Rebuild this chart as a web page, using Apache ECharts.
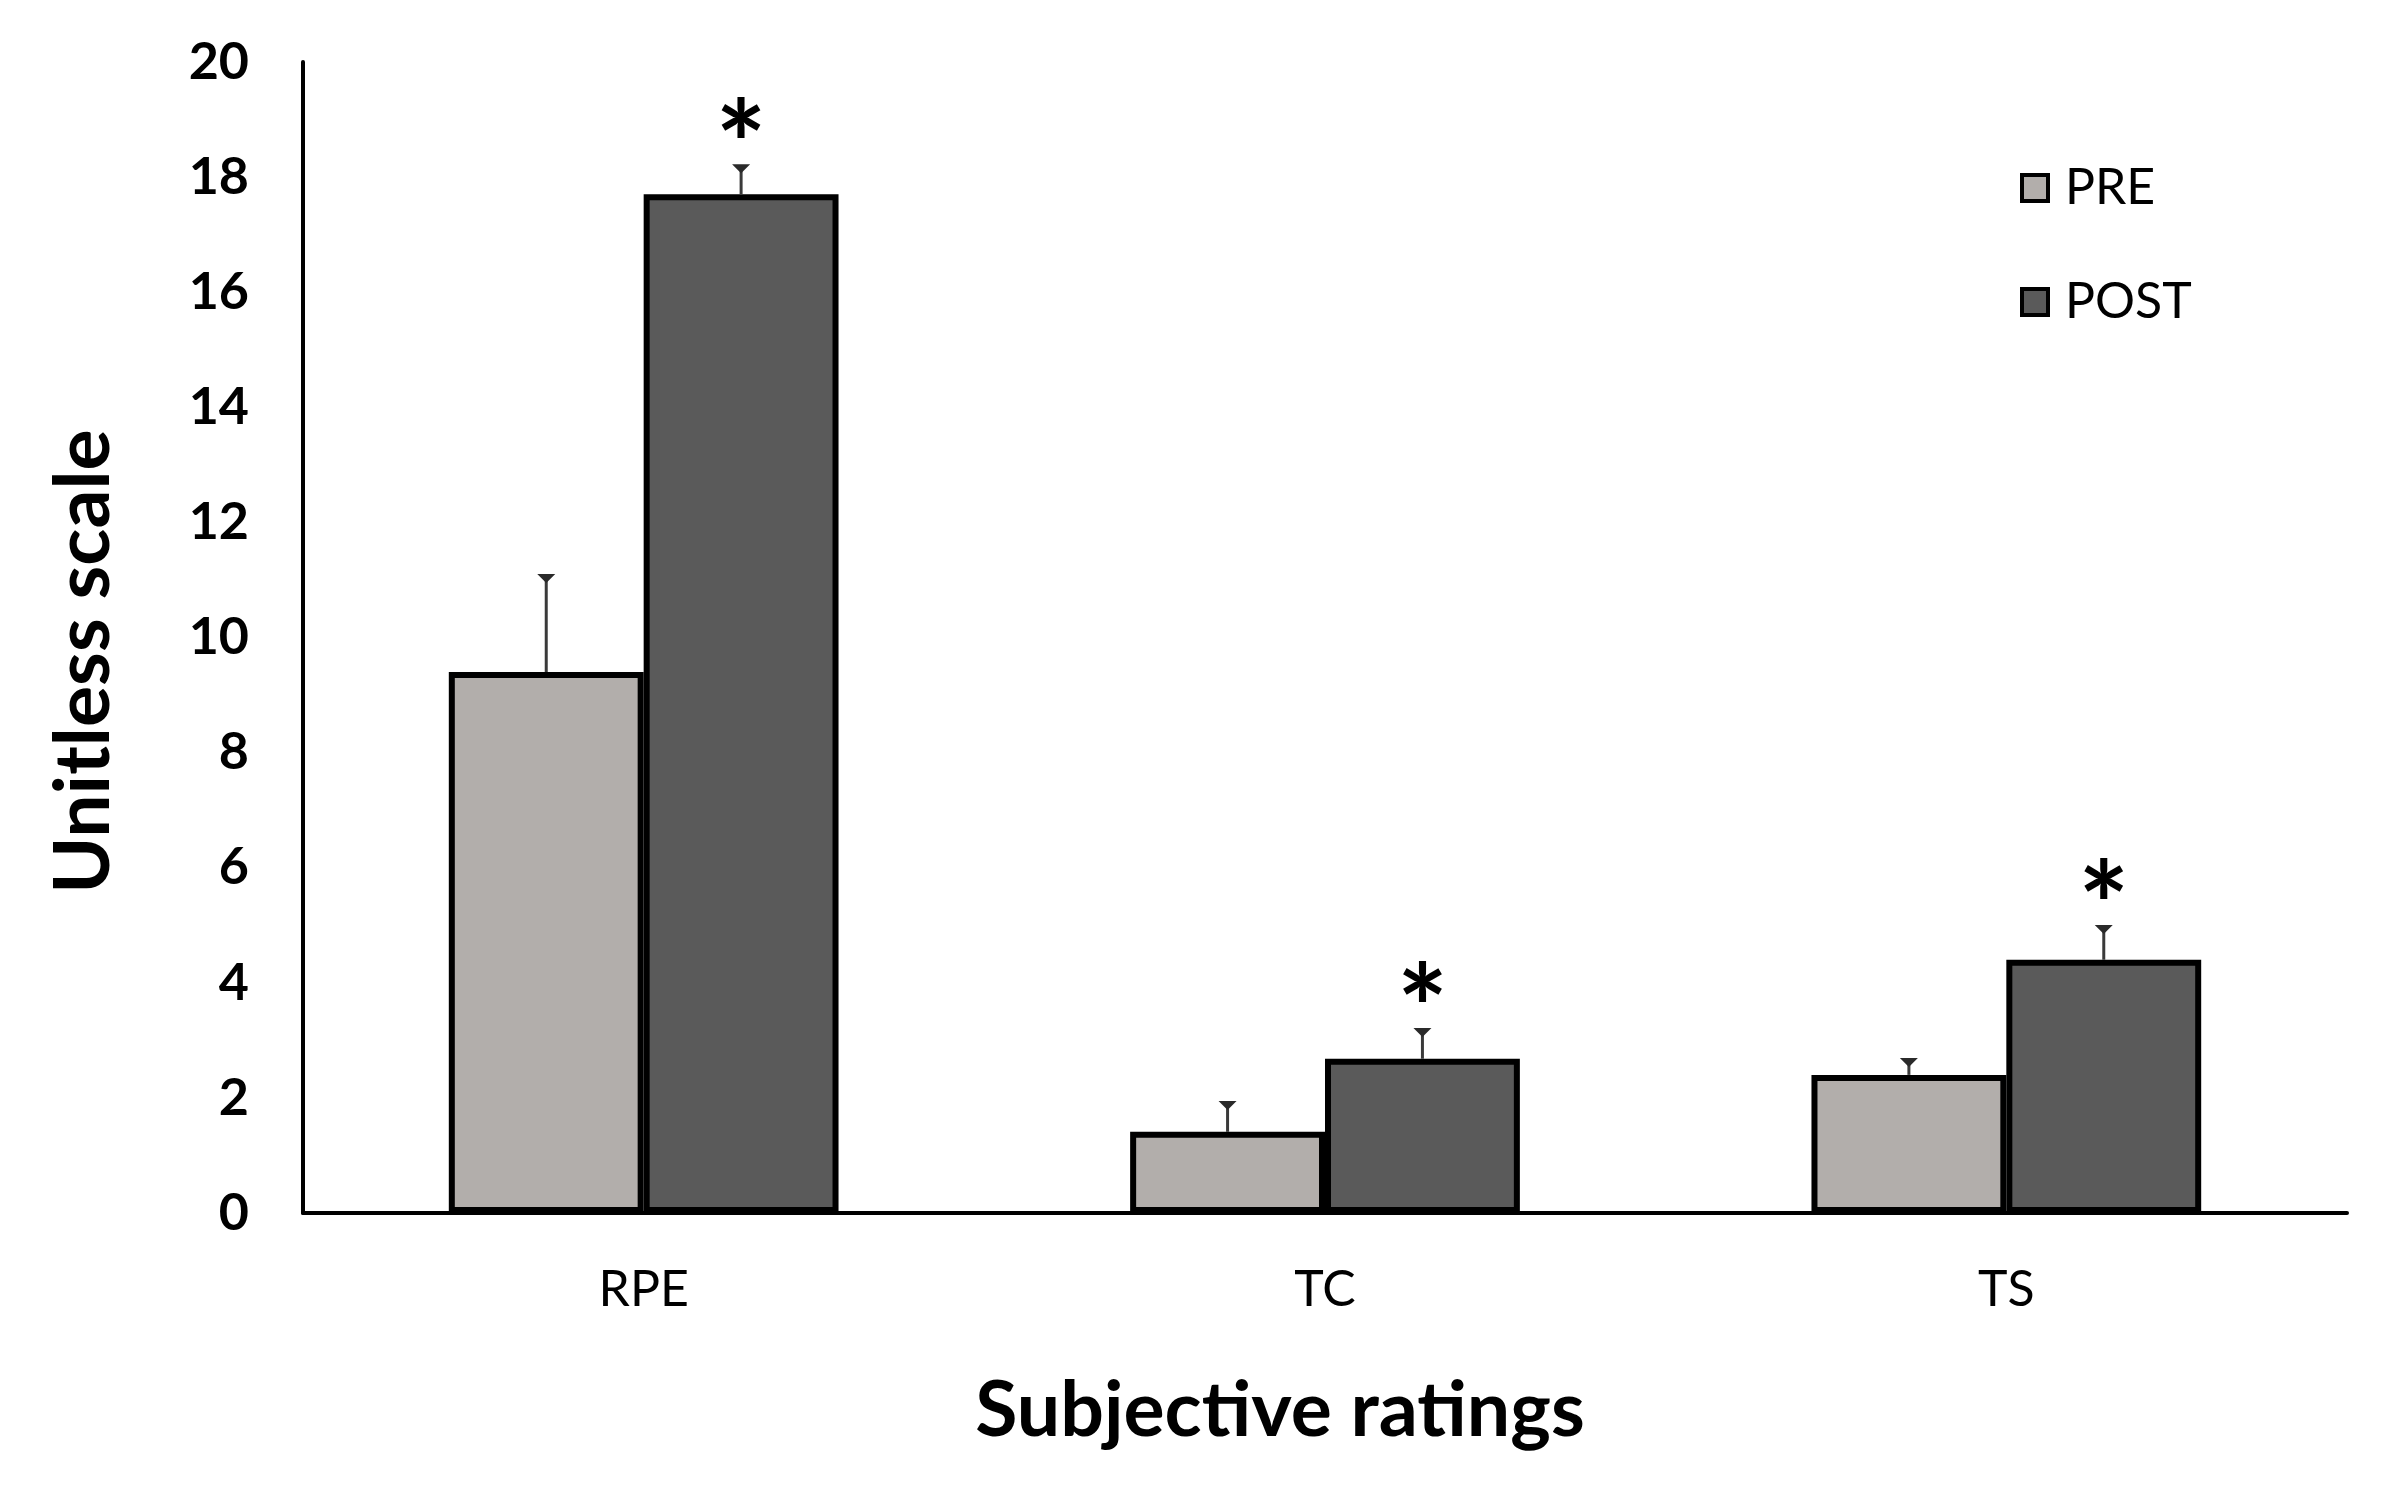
<!DOCTYPE html>
<html>
<head>
<meta charset="utf-8">
<script src="https://cdn.jsdelivr.net/npm/echarts@6/dist/echarts.min.js"></script>
<style>
html,body{margin:0;padding:0;background:#fff;}
#chart{width:2401px;height:1503px;}
</style>
</head>
<body>
<div id="chart"></div>
<script>
// ---- data ----
const categories = ['RPE', 'TC', 'TS'];
const preValues  = [9.4, 1.41, 2.40];
const preErrors  = [1.67, 0.50, 0.26];
const postValues = [17.7, 2.68, 4.40];
const postErrors = [0.49, 0.50, 0.57];
const postSignificant = [true, true, true];
const yTicks = { min: 0, max: 20, interval: 2 };

const FONT = 'Lato';
const BAR_FRAC = 0.286;

const chart = echarts.init(document.getElementById('chart'), null, {renderer: 'canvas'});

function errData(vals, errs, sig) {
  return vals.map((v, i) => [i, v, v + errs[i], sig ? (sig[i] ? 1 : 0) : 0]);
}

function makeErrSeries(name, vals, errs, side, sig) {
  return {
    type: 'custom',
    name: name + '_err',
    z: 5,
    silent: true,
    data: errData(vals, errs, sig),
    renderItem: function (params, api) {
      const idx = api.value(0);
      const base = api.coord([idx, api.value(1)]);
      const top = api.coord([idx, api.value(2)]);
      const band = api.size([1, 0])[0];
      const x = base[0] + side * band * BAR_FRAC / 2;
      const children = [
        { type: 'line', shape: { x1: x, y1: base[1], x2: x, y2: top[1] },
          style: { stroke: '#3a3a3a', lineWidth: 3 } },
        { type: 'polygon', shape: { points: [[x - 9, top[1] - 2], [x + 9, top[1] - 2], [x, top[1] + 7]] },
          style: { fill: '#2a2a2a' } }
      ];
      if (api.value(3) === 1) {
        children.push({ type: 'text', style: { text: '*', x: x, y: top[1] + 44,
          fontSize: 120, fontWeight: 'bold', fontFamily: FONT, fill: '#000',
          align: 'center', verticalAlign: 'bottom' } });
      }
      return { type: 'group', children: children };
    }
  };
}

const option = {
  backgroundColor: '#ffffff',
  animation: false,
  grid: { left: 303, right: 54, top: 62, bottom: 290, containLabel: false },
  legend: {
    orient: 'vertical',
    left: 2015,
    top: 158,
    itemGap: 64,
    itemWidth: 26,
    itemHeight: 26,
    icon: 'rect',
    data: ['PRE', 'POST'],
    itemStyle: { borderColor: '#000', borderWidth: 4 },
    textStyle: { fontFamily: FONT, fontSize: 50, color: '#000', padding: [0, 0, 0, 12] }
  },
  xAxis: {
    type: 'category',
    data: categories,
    name: 'Subjective ratings',
    nameLocation: 'middle',
    nameGap: 160,
    nameTextStyle: { fontFamily: FONT, fontSize: 77, fontWeight: 'bold', color: '#000', padding: [0, 90, 0, 0] },
    axisLine: { lineStyle: { color: '#000', width: 4 } },
    axisTick: { show: false },
    axisLabel: { fontFamily: FONT, fontSize: 50, color: '#000', margin: 52 }
  },
  yAxis: {
    type: 'value',
    min: yTicks.min,
    max: yTicks.max,
    interval: yTicks.interval,
    name: 'Unitless scale',
    nameLocation: 'middle',
    nameGap: 180,
    nameTextStyle: { fontFamily: FONT, fontSize: 77, fontWeight: 'bold', color: '#000', padding: [0, 48, 0, 0] },
    axisLine: { show: true, lineStyle: { color: '#000', width: 4 } },
    axisTick: { show: false },
    splitLine: { show: false },
    axisLabel: { fontFamily: FONT, fontSize: 52, fontWeight: 'bold', color: '#000', margin: 54 }
  },
  series: [
    {
      name: 'PRE', type: 'bar', data: preValues,
      barWidth: (BAR_FRAC * 100) + '%', barGap: '0%',
      itemStyle: { color: '#b2aeab', borderColor: '#000', borderWidth: 6 }
    },
    {
      name: 'POST', type: 'bar', data: postValues,
      barWidth: (BAR_FRAC * 100) + '%', barGap: '0%',
      itemStyle: { color: '#5a5a5a', borderColor: '#000', borderWidth: 6 }
    },
    makeErrSeries('PRE', preValues, preErrors, -1, null),
    makeErrSeries('POST', postValues, postErrors, 1, postSignificant)
  ]
};
chart.setOption(option);
</script>
</body>
</html>
